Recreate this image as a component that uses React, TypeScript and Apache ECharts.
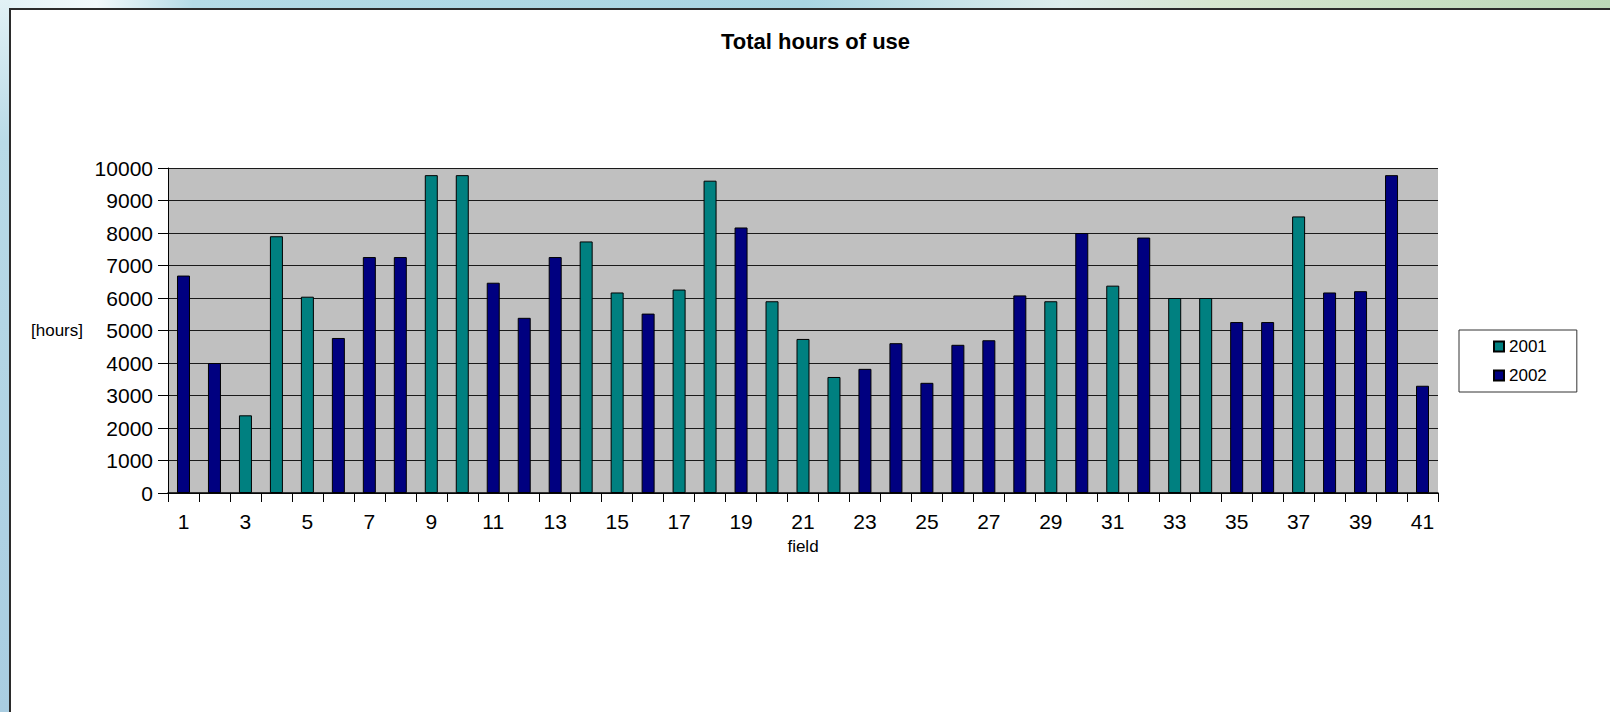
import React, { useEffect, useRef } from "react";
import * as echarts from "echarts";

const fields = ["1","2","3","4","5","6","7","8","9","10","11","12","13","14","15","16","17","18","19","20","21","22","23","24","25","26","27","28","29","30","31","32","33","34","35","36","37","38","39","40","41"];
const v2001 = [null,null,2390,7900,6040,null,null,null,9780,9780,null,null,null,7740,6170,null,6260,9610,null,5900,4740,3570,null,null,null,null,null,null,5900,null,6380,null,6000,6000,null,null,8510,null,null,null,null];
const v2002 = [6690,4000,null,null,null,4770,7260,7260,null,null,6470,5390,7260,null,null,5520,null,null,8170,null,null,null,3820,4610,3390,4560,4700,6080,null,8000,null,7860,null,null,5260,5260,null,6170,6210,9780,3300];
const seriesNames = ["2001", "2002"];
const yTicks = { min: 0, max: 10000, interval: 1000 };

const FONT = "'Liberation Sans', Arial, sans-serif";

export default function App() {
  const ref = useRef<HTMLDivElement>(null);
  useEffect(() => {
    document.body.style.margin = "0";
    const chart = echarts.init(ref.current!, null, { renderer: "svg" });
    chart.setOption({
      animation: false,
      backgroundColor: "#ffffff",
      title: {
        text: "Total hours of use",
        left: 721,
        top: 30,
        padding: 0,
        textStyle: { fontFamily: FONT, fontSize: 22, fontWeight: "bold", color: "#000" },
      },
      graphic: [
        {
          type: "rect",
          shape: { x: 0, y: 0, width: 1610, height: 9 },
          style: {
            fill: new echarts.graphic.LinearGradient(0, 0, 1, 0, [
              { offset: 0, color: "#e2f1f5" },
              { offset: 0.06, color: "#f2f9fb" },
              { offset: 0.12, color: "#b4dbe6" },
              { offset: 0.5, color: "#a9d5e2" },
              { offset: 0.66, color: "#dcecec" },
              { offset: 0.75, color: "#d6e6d0" },
              { offset: 1, color: "#bcd9b8" },
            ]),
          },
          silent: true,
        },
        {
          type: "rect",
          shape: { x: 0, y: 0, width: 10, height: 712 },
          style: {
            fill: new echarts.graphic.LinearGradient(0, 0, 0, 1, [
              { offset: 0, color: "#e2f1f5" },
              { offset: 0.2, color: "#b9dae7" },
              { offset: 1, color: "#a9cde1" },
            ]),
          },
          silent: true,
        },
        {
          type: "line",
          shape: { x1: 9, y1: 9, x2: 1610, y2: 9 },
          style: { stroke: "#2b2b2b", lineWidth: 2 },
          silent: true,
        },
        {
          type: "line",
          shape: { x1: 10, y1: 8, x2: 10, y2: 712 },
          style: { stroke: "#2b2b2b", lineWidth: 2 },
          silent: true,
        },
        {
          type: "text",
          x: 57,
          y: 330,
          style: {
            text: "[hours]",
            fontFamily: FONT,
            fontSize: 17,
            fill: "#000",
            textAlign: "center",
            textVerticalAlign: "middle",
          },
          silent: true,
        },
      ],
      legend: {
        orient: "vertical",
        left: 1459,
        top: 330,
        padding: [8, 30, 8, 34],
        itemGap: 12,
        itemWidth: 10,
        itemHeight: 10,
        icon: "rect",
        borderColor: "#333",
        borderWidth: 1,
        backgroundColor: "#fff",
        textStyle: { fontFamily: FONT, fontSize: 17, color: "#000", lineHeight: 17 },
        data: seriesNames,
      },
      grid: {
        left: 168,
        top: 168,
        width: 1270,
        height: 325,
        show: true,
        backgroundColor: "#c0c0c0",
        borderWidth: 0,
      },
      xAxis: {
        type: "category",
        data: fields,
        name: "field",
        nameLocation: "middle",
        nameGap: 45,
        nameTextStyle: { fontFamily: FONT, fontSize: 17, color: "#000" },
        axisLine: { show: true, lineStyle: { color: "#000", width: 1.5 } },
        axisTick: { show: true, interval: 0, length: 9, lineStyle: { color: "#000" } },
        axisLabel: { interval: 1, fontFamily: FONT, fontSize: 21, color: "#000", margin: 18 },
        splitLine: { show: false },
      },
      yAxis: {
        type: "value",
        min: yTicks.min,
        max: yTicks.max,
        interval: yTicks.interval,
        axisLine: { show: true, lineStyle: { color: "#000", width: 1 } },
        axisTick: { show: true, length: 10, lineStyle: { color: "#000" } },
        axisLabel: {
          fontFamily: FONT,
          fontSize: 21,
          color: "#000",
          margin: 15,
          formatter: (v: number) => String(v),
        },
        splitLine: { show: true, lineStyle: { color: "#1a1a1a", width: 1 } },
      },
      series: [
        {
          name: seriesNames[0],
          type: "bar",
          data: v2001,
          barWidth: 13,
          barGap: "-100%",
          itemStyle: { color: "#008080", borderColor: "#000", borderWidth: 1 },
        },
        {
          name: seriesNames[1],
          type: "bar",
          data: v2002,
          barWidth: 13,
          barGap: "-100%",
          itemStyle: { color: "#000080", borderColor: "#000", borderWidth: 1 },
        },
      ],
    });
    return () => chart.dispose();
  }, []);
  return <div ref={ref} style={{ width: 1610, height: 712 }} />;
}
